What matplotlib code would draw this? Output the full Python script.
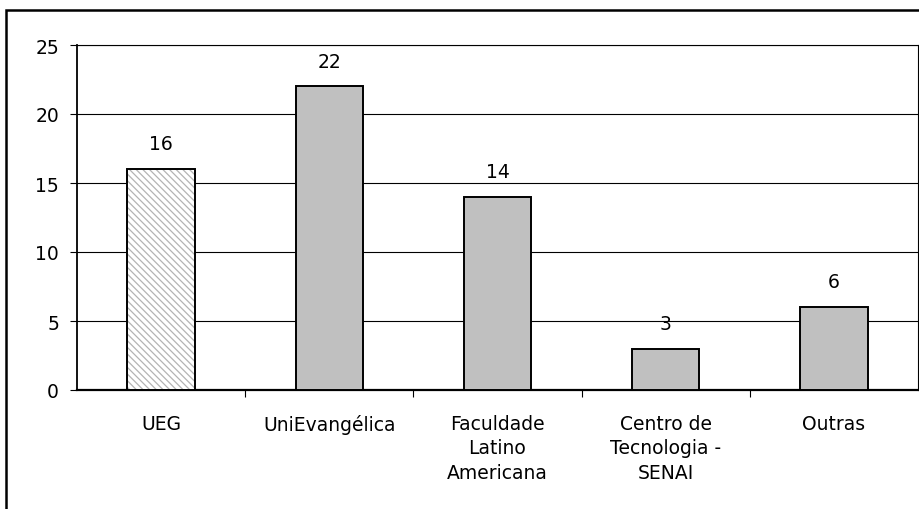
import numpy as np
import matplotlib.pyplot as plt
from matplotlib.patches import Rectangle

plt.rcParams['font.family'] = ['DejaVu Sans']
plt.rcParams['hatch.linewidth'] = 0.9

categories = ['UEG', 'UniEvangélica', 'Faculdade\nLatino\nAmericana',
              'Centro de\nTecnologia -\nSENAI', 'Outras']
values = [16, 22, 14, 3, 6]
yticks = [0, 5, 10, 15, 20, 25]

fig = plt.figure(figsize=(9.2, 5.1), dpi=100)
# outer frame, cut off on the right and bottom as in the reference
fig.patches.append(Rectangle((6 / 920, -0.1), 1.2, 1.1 - 11 / 510,
                             transform=fig.transFigure, fill=False,
                             edgecolor='black', linewidth=1.8))

ax = fig.add_axes([77 / 920, 1 - 391 / 510, 841 / 920, 345 / 510])
x = np.arange(len(categories))
for i, v in enumerate(values):
    if i == 0:
        # hatched fill in light gray, then a black outline on top
        ax.bar(x[i], v, width=0.4, facecolor='white', edgecolor='#b4b4b4',
               hatch='\\' * 5, linewidth=0, zorder=3)
        ax.bar(x[i], v, width=0.4, fill=False, edgecolor='black',
               linewidth=1.4, zorder=4)
    else:
        ax.bar(x[i], v, width=0.4, facecolor='#c0c0c0', edgecolor='black',
               linewidth=1.4, zorder=3)
    ax.text(x[i], v + 1.15, str(v), ha='center', va='bottom', fontsize=13.5)

ax.set_xlim(-0.5, len(categories) - 0.5)
ax.set_ylim(0, 25)
ax.set_yticks(yticks)
ax.set_yticklabels([str(t) for t in yticks], fontsize=13.5)
ax.yaxis.grid(True, color='black', linewidth=0.8, zorder=0)
ax.set_xticks(x)
ax.set_xticklabels(categories, fontsize=13.5, linespacing=1.38, va='top')
ax.tick_params(axis='x', length=0, pad=17)
ax.set_xticks(np.arange(0.5, len(categories) - 0.5), minor=True)
ax.tick_params(axis='x', which='minor', length=5, width=0.8)
ax.tick_params(axis='y', length=5, width=0.8, pad=8)
for s in ax.spines.values():
    s.set_linewidth(0.8)
ax.spines['left'].set_linewidth(1.3)
ax.spines['bottom'].set_linewidth(1.6)

fig.savefig('out.png', dpi=100)
